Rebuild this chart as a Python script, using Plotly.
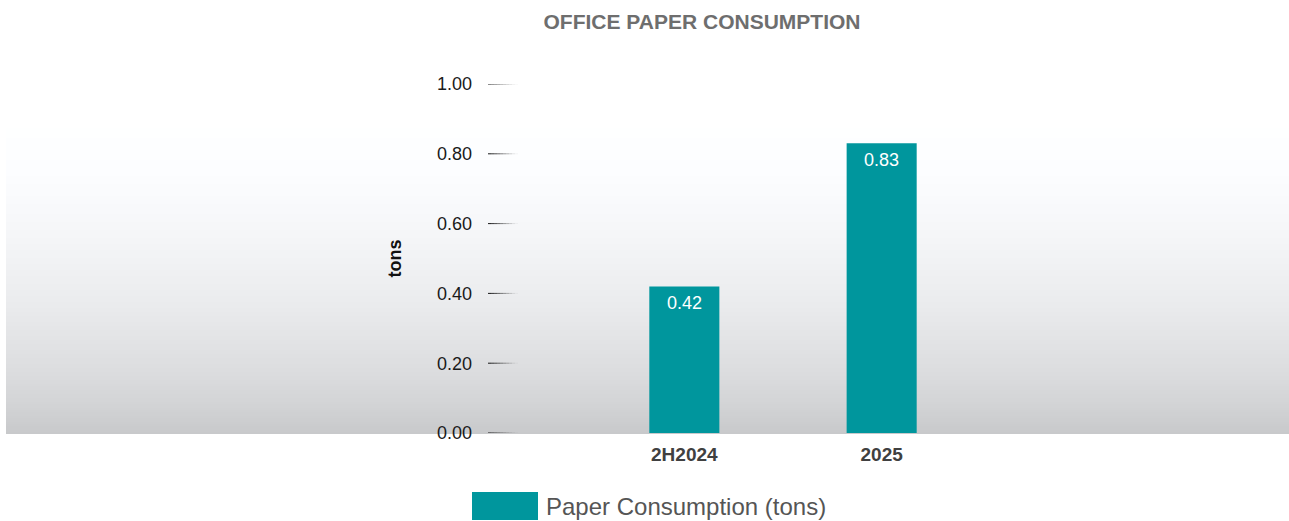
import plotly.graph_objects as go

# --- data ---
categories = ["2H2024", "2025"]
paper_tons = [0.42, 0.83]
series_name = "Paper Consumption (tons)"
y_ticks = [0.0, 0.2, 0.4, 0.6, 0.8, 1.0]
y_tick_labels = ["0.00", "0.20", "0.40", "0.60", "0.80", "1.00"]

# --- layout geometry (pixels) ---
W, H = 1289, 521
ML, MR, MT, MB = 487, 210, 84, 88
PW, PH = W - ML - MR, H - MT - MB

TEAL = "#00969d"
FONT = "Liberation Sans, Arial, sans-serif"


def px_x(px):
    return (px - ML) / PW


def px_y(py):
    return (H - MB - py) / PH


fig = go.Figure()
fig.add_trace(go.Bar(
    x=categories, y=paper_tons, name=series_name,
    marker=dict(color=TEAL, line=dict(width=0)),
    showlegend=False, hoverinfo="x+y",
))

shapes = []

# vertical grey backdrop gradient behind the plot
stops = [(128, 254), (170, 252), (200, 249), (235, 245), (267, 240),
         (300, 235), (333, 228), (370, 220), (400, 212), (434, 200)]


def grey_at(py):
    for (a, ga), (b, gb) in zip(stops, stops[1:]):
        if a <= py <= b:
            t = (py - a) / (b - a)
            return ga + (gb - ga) * t
    return stops[-1][1]


step = 2
py = 128
while py < 434:
    g = grey_at(py + step / 2)
    c = f"rgb({round(g)},{round(g) + 1},{min(255, round(g) + 3)})"
    shapes.append(dict(
        type="rect", xref="paper", yref="paper",
        x0=px_x(6), x1=px_x(W), y0=px_y(min(py + step, 434)), y1=px_y(py),
        fillcolor=c, line=dict(width=0), layer="below",
    ))
    py += step

# fading tick marks at each y tick
nseg = 10
seg_px = 3
for v in y_ticks:
    for i in range(nseg):
        op = max(0.04, 1 - i / (nseg - 1)) * 0.9
        shapes.append(dict(
            type="line", xref="paper", yref="y",
            x0=px_x(ML + 1 + i * seg_px), x1=px_x(ML + 1 + (i + 1) * seg_px),
            y0=v, y1=v, line=dict(color=f"rgba(0,0,0,{op:.2f})", width=1),
            layer="above",
        ))

# legend swatch
shapes.append(dict(
    type="rect", xref="paper", yref="paper",
    x0=px_x(472), x1=px_x(538), y0=px_y(520), y1=px_y(492),
    fillcolor=TEAL, line=dict(width=0),
))

annotations = []
# value labels inside bar tops (category index positions)
for i, v in enumerate(paper_tons):
    annotations.append(dict(
        x=i, y=v, xref="x", yref="y", text=f"{v:.2f}", showarrow=False,
        yanchor="middle", yshift=-17,
        font=dict(family=FONT, size=18, color="white"),
    ))

# legend label
annotations.append(dict(
    x=px_x(544), y=px_y(506), xref="paper", yref="paper", text=series_name,
    showarrow=False, xanchor="left", yanchor="middle",
    font=dict(family=FONT, size=24, color="#555555"),
))

fig.update_layout(
    width=W, height=H,
    margin=dict(l=ML, r=MR, t=MT, b=MB, pad=0),
    paper_bgcolor="white", plot_bgcolor="rgba(0,0,0,0)",
    bargap=0.645,
    showlegend=False,
    title=dict(
        text="<b>OFFICE PAPER CONSUMPTION</b>",
        x=702 / W, xanchor="center", xref="container",
        y=1 - 22 / H, yanchor="middle", yref="container",
        font=dict(family=FONT, size=21, color="#6e6e6e"),
    ),
    xaxis=dict(
        type="category", range=[-1, 2],
        showgrid=False, zeroline=False, showline=False, ticks="",
        tickfont=dict(family=FONT, size=19, color="#404040", weight="bold"),
        ticklabelstandoff=8,
    ),
    yaxis=dict(
        range=[0, 1], tickvals=y_ticks, ticktext=y_tick_labels,
        showgrid=False, zeroline=False, showline=False, ticks="",
        tickfont=dict(family=FONT, size=18, color="#1a1a1a"),
        ticklabelstandoff=14,
        title=dict(
            text="<b>tons</b>", standoff=30,
            font=dict(family=FONT, size=18, color="#111111"),
        ),
    ),
    shapes=shapes,
    annotations=annotations,
)

fig.write_html("out.html")
